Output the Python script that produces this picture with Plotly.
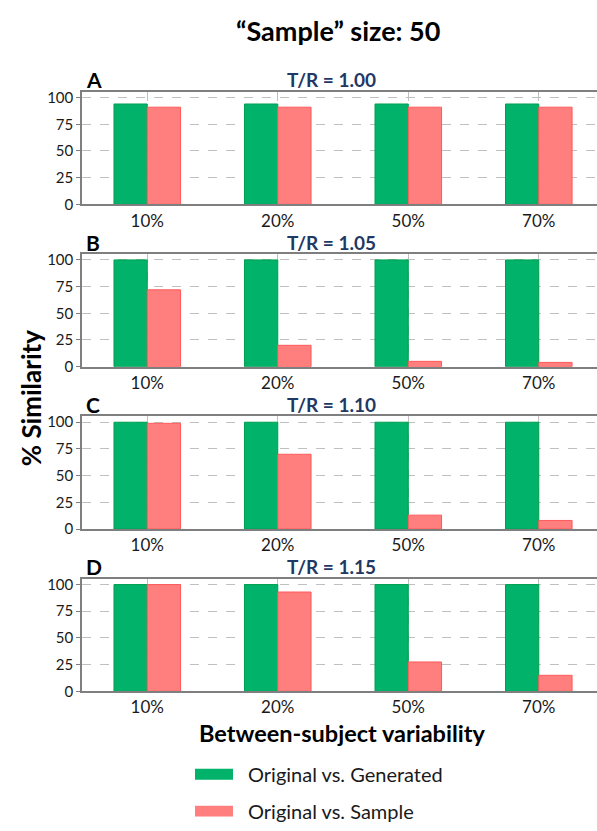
import plotly.graph_objects as go

# Between-subject variability levels (x categories)
categories = ["10%", "20%", "50%", "70%"]

# Panel letters and test/reference ratios
panel_letters = ["A", "B", "C", "D"]
panel_titles = ["T/R = 1.00", "T/R = 1.05", "T/R = 1.10", "T/R = 1.15"]

# % similarity, Original vs. Generated
generated_A = [94, 94, 94, 94]
generated_B = [100, 100, 100, 100]
generated_C = [100, 100, 100, 100]
generated_D = [100, 100, 100, 100]

# % similarity, Original vs. Sample
sample_A = [91, 91, 91, 91]
sample_B = [72, 20, 5, 4]
sample_C = [99, 70, 13, 8]
sample_D = [100, 93, 27.5, 15]

generated = [generated_A, generated_B, generated_C, generated_D]
sample = [sample_A, sample_B, sample_C, sample_D]

y_ticks = [0, 25, 50, 75, 100]

W, H = 597, 831
GREEN = "#00B26A"
GREEN_LINE = "#00A050"
PINK = "#FF7F7F"
PINK_LINE = "#FF5A5A"
NAVY = "#1F3864"
FONT = "Lato"
GRID = "#c0c0c0"

# pixel layout of the four stacked panels
left_px = 82
top_px = [89, 253.7, 418.4, 583.1]
panel_h = 114.3

fig = go.Figure()
layout = dict(
    width=W, height=H,
    margin=dict(l=0, r=0, t=0, b=0),
    plot_bgcolor="white", paper_bgcolor="white",
    barmode="group", bargap=0.49, bargroupgap=0,
    showlegend=False,
    font=dict(family=FONT, color="#1a1a1a"),
)

annotations = []
shapes = []

for i in range(4):
    xa = "x" if i == 0 else f"x{i+1}"
    ya = "y" if i == 0 else f"y{i+1}"
    fig.add_trace(go.Bar(
        x=categories, y=generated[i], name="Original vs. Generated",
        marker=dict(color=GREEN, line=dict(color=GREEN_LINE, width=1)),
        xaxis=xa, yaxis=ya,
    ))
    fig.add_trace(go.Bar(
        x=categories, y=sample[i], name="Original vs. Sample",
        marker=dict(color=PINK, line=dict(color=PINK_LINE, width=1)),
        xaxis=xa, yaxis=ya,
    ))
    y_top = 1 - top_px[i] / H
    y_bot = 1 - (top_px[i] + panel_h) / H
    xkey = "xaxis" if i == 0 else f"xaxis{i+1}"
    ykey = "yaxis" if i == 0 else f"yaxis{i+1}"
    layout[xkey] = dict(
        domain=[left_px / W, 1], anchor=ya,
        type="category", range=[-0.5, 3.446],
        showline=True, linecolor="#7f7f7f", linewidth=1.5, mirror=True,
        showgrid=True, gridcolor=GRID, griddash="dash", gridwidth=1,
        tickfont=dict(family=FONT, size=17, color="#1a1a1a"),
        ticks="", zeroline=False, fixedrange=True,
    )
    layout[ykey] = dict(
        domain=[y_bot, y_top], anchor=xa,
        range=[0, 105.5], tickvals=y_ticks,
        showline=True, linecolor="#7f7f7f", linewidth=1.5,
        showgrid=True, gridcolor=GRID, griddash="dash", gridwidth=1,
        ticks="outside", ticklen=4, tickcolor="#7f7f7f",
        tickfont=dict(family=FONT, size=15, color="#1a1a1a"),
        zeroline=False, fixedrange=True,
    )
    # panel title
    annotations.append(dict(
        text=f"<b>{panel_titles[i]}</b>", xref="paper", yref="paper",
        x=331 / W, y=1 - (top_px[i] - 12) / H,
        xanchor="center", yanchor="middle", showarrow=False,
        font=dict(family=FONT, size=19, color=NAVY),
    ))
    # panel letter
    annotations.append(dict(
        text=f"<b>{panel_letters[i]}</b>", xref="paper", yref="paper",
        x=84 / W, y=1 - (top_px[i] - 12) / H,
        xanchor="left", yanchor="middle", showarrow=False,
        font=dict(family=FONT, size=21, color="black"),
    ))

# overall title and axis titles
annotations += [
    dict(text="<b>“Sample” size: 50</b>", xref="paper", yref="paper",
         x=338 / W, y=1 - 27 / H, xanchor="center", yanchor="middle",
         showarrow=False, font=dict(family=FONT, size=27, color="black")),
    dict(text="<b>% Similarity</b>", xref="paper", yref="paper",
         x=31 / W, y=1 - 400 / H, xanchor="center", yanchor="middle",
         textangle=-90, showarrow=False,
         font=dict(family=FONT, size=26, color="black")),
    dict(text="<b>Between-subject variability</b>", xref="paper", yref="paper",
         x=342 / W, y=1 - 740 / H, xanchor="center", yanchor="middle",
         showarrow=False, font=dict(family=FONT, size=23.5, color="black")),
]

# legend drawn as swatches with labels
legend_items = [("Original vs. Generated", GREEN, 781.5), ("Original vs. Sample", PINK, 819)]
for label, color, yc in legend_items:
    shapes.append(dict(
        type="rect", xref="paper", yref="paper",
        x0=195 / W, x1=233 / W, y0=1 - (yc + 5.5) / H, y1=1 - (yc - 5.5) / H,
        fillcolor=color, line=dict(width=0),
    ))
    annotations.append(dict(
        text=label, xref="paper", yref="paper",
        x=246 / W, y=1 - yc / H, xanchor="left", yanchor="middle",
        showarrow=False, font=dict(family=FONT, size=20, color="#1a1a1a"),
    ))

layout["annotations"] = annotations
layout["shapes"] = shapes
fig.update_layout(**layout)
fig.write_html("out.html")
